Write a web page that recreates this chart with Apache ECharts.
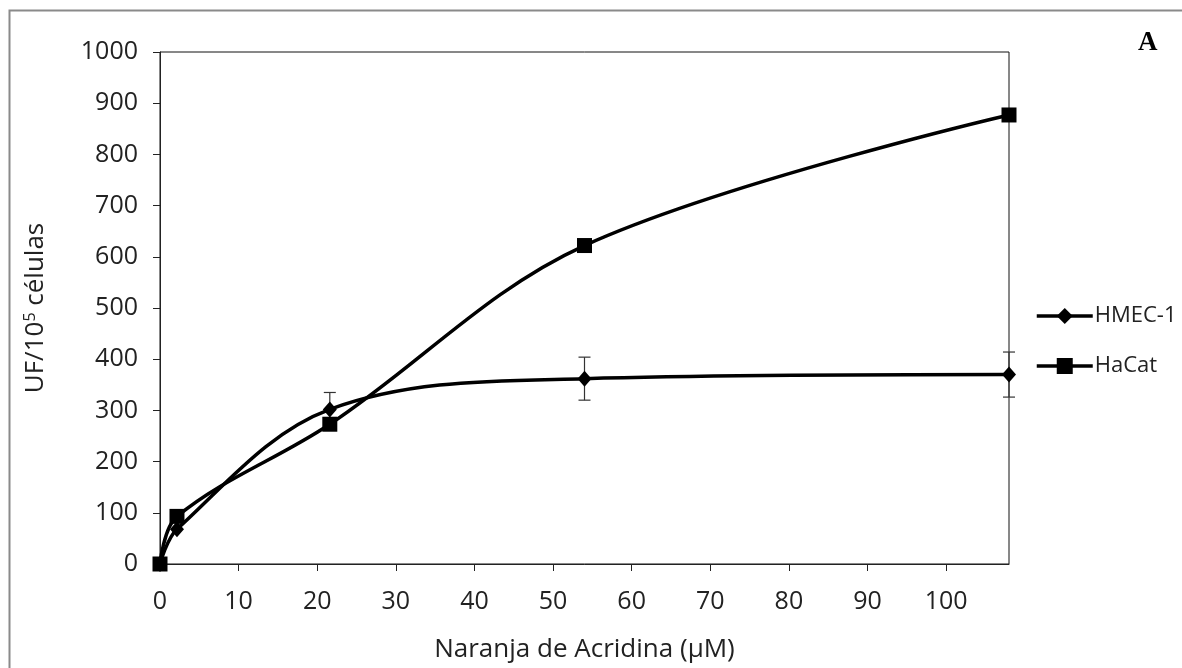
<!DOCTYPE html>
<html>
<head>
<meta charset="utf-8">
<script src="https://cdn.jsdelivr.net/npm/echarts@6/dist/echarts.min.js"></script>
<style>
  html, body { margin: 0; padding: 0; background: #fff; }
  #chart { width: 1182px; height: 668px; }
</style>
</head>
<body>
<div id="chart"></div>
<script>
// Concentraciones de naranja de acridina (µM)
const concentrations = [0, 2.16, 21.6, 54, 108];
// Fluorescencia (UF / 10^5 células)
const hmecValues = [0, 68, 302, 362, 370];
const hmecErrors = [0, 0, 33, 42, 44];
const hacatValues = [0, 93, 273, 622, 877];
const seriesNames = ['HMEC-1', 'HaCat'];
const xTicks = [0, 10, 20, 30, 40, 50, 60, 70, 80, 90, 100];

const FONT = '"Open Sans", sans-serif';

const hmecData = concentrations.map((x, i) => [x, hmecValues[i]]);
const hacatData = concentrations.map((x, i) => [x, hacatValues[i]]);
const hmecErrData = concentrations
  .map((x, i) => [x, hmecValues[i], hmecErrors[i]])
  .filter(d => d[2] > 0);

const chart = echarts.init(document.getElementById('chart'), null, { renderer: 'canvas' });

chart.setOption({
  backgroundColor: '#fff',
  animation: false,
  grid: {
    left: 160, top: 52, right: 173, bottom: 103,
    show: true, borderColor: '#111', borderWidth: 1, backgroundColor: 'transparent'
  },
  graphic: [
    {
      type: 'rect', left: 7, top: 8, silent: true,
      shape: { width: 1200, height: 700 },
      style: { fill: 'none', stroke: '#8a8a8a', lineWidth: 2 }
    },
    {
      type: 'text', left: 1138, top: 30,
      style: { text: 'A', font: 'bold 27px "Liberation Serif", serif', fill: '#000' }
    }
  ],
  legend: {
    orient: 'vertical', left: 1030, top: 300,
    itemWidth: 56, itemHeight: 20, itemGap: 28,
    lineStyle: { width: 3.5, color: '#000' },
    textStyle: { fontFamily: FONT, fontSize: 22, color: '#222', padding: [0, 0, 0, -3] },
    data: seriesNames
  },
  xAxis: {
    type: 'value', min: 0, max: 108,
    name: 'Naranja de Acridina (µM)', nameLocation: 'middle', nameGap: 73,
    nameTextStyle: { fontFamily: FONT, fontSize: 26, color: '#222' },
    axisLine: { show: true, lineStyle: { color: '#222', width: 1 } },
    axisTick: { show: true, inside: false, length: 7, customValues: xTicks, lineStyle: { color: '#222' } },
    axisLabel: { customValues: xTicks, fontFamily: FONT, fontSize: 25, color: '#222', margin: 25 },
    splitLine: { show: false }
  },
  yAxis: {
    type: 'value', min: 0, max: 1000, interval: 100,
    name: '{a|UF/10}{s|5}{a| células}', nameLocation: 'middle', nameGap: 110,
    nameTextStyle: {
      fontFamily: FONT, fontSize: 26, color: '#222',
      rich: {
        a: { fontFamily: FONT, fontSize: 26, color: '#222' },
        s: { fontFamily: FONT, fontSize: 16, color: '#222', verticalAlign: 'top', padding: [0, 0, 12, 0] }
      }
    },
    axisLine: { show: true, lineStyle: { color: '#222', width: 1 } },
    axisTick: { show: true, inside: false, length: 7, lineStyle: { color: '#222' } },
    axisLabel: {
      fontFamily: FONT, fontSize: 25, color: '#222', margin: 22,
      formatter: v => String(v)
    },
    splitLine: { show: false }
  },
  series: [
    {
      name: 'HMEC-1', type: 'line', data: hmecData, smooth: 0.35,
      symbol: 'diamond', symbolSize: [14, 16],
      lineStyle: { color: '#000', width: 3.5 },
      itemStyle: { color: '#000' }, z: 3
    },
    {
      name: 'HaCat', type: 'line', data: hacatData, smooth: 0.35,
      symbol: 'rect', symbolSize: 15,
      lineStyle: { color: '#000', width: 3.5 },
      itemStyle: { color: '#000' }, z: 4
    },
    {
      name: 'HMEC-1 error', type: 'custom', data: hmecErrData, z: 2,
      renderItem: function (params, api) {
        const x = api.value(0), y = api.value(1), e = api.value(2);
        const top = api.coord([x, y + e]);
        const bot = api.coord([x, y - e]);
        const w = 6;
        const style = { stroke: '#333', lineWidth: 1.2 };
        return {
          type: 'group',
          children: [
            { type: 'line', shape: { x1: top[0], y1: top[1], x2: bot[0], y2: bot[1] }, style },
            { type: 'line', shape: { x1: top[0] - w, y1: top[1], x2: top[0] + w, y2: top[1] }, style },
            { type: 'line', shape: { x1: bot[0] - w, y1: bot[1], x2: bot[0] + w, y2: bot[1] }, style }
          ]
        };
      }
    }
  ]
});
</script>
</body>
</html>
